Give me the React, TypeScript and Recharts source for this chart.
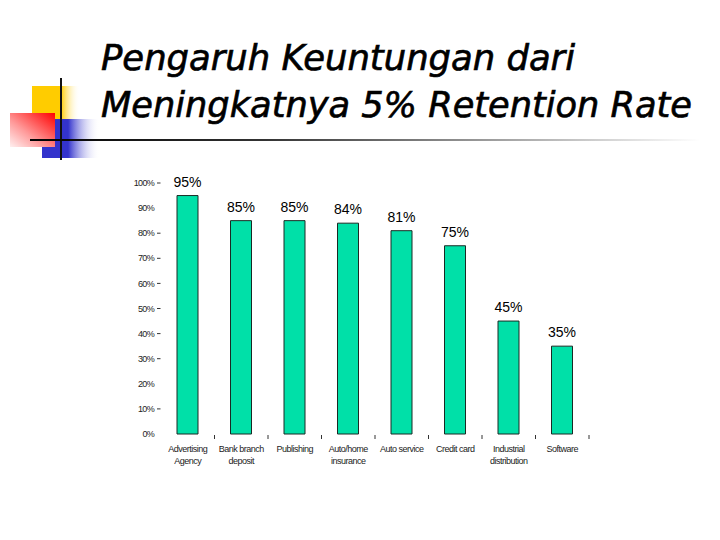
import React from "react";
import { BarChart, Bar, XAxis, YAxis, LabelList } from "recharts";

const categories = [
  "Advertising\nAgency",
  "Bank branch\ndeposit",
  "Publishing",
  "Auto/home\ninsurance",
  "Auto service",
  "Credit card",
  "Industrial\ndistribution",
  "Software",
];
const values = [95, 85, 85, 84, 81, 75, 45, 35];
const yTicks = [0, 10, 20, 30, 40, 50, 60, 70, 80, 90, 100];
const yTicksWithDash = [10, 30, 40, 50, 60, 70, 80, 100];
const titleLines = ["Pengaruh Keuntungan dari", "Meningkatnya 5% Retention Rate"];

const data = categories.map((c, i) => ({ category: c, value: values[i] }));

const W = 720;
const H = 540;
const M = { top: 183, right: 131, bottom: 66, left: 101 };
const Y_W = 60;
const X_H = 40;
const BAND = (W - M.left - Y_W - M.right) / categories.length;

const SMALL_FONT = "'Liberation Sans', Arial, sans-serif";

const YTick = (props: any) => {
  const { x, y, payload } = props;
  const v = payload.value;
  return (
    <g>
      {yTicksWithDash.includes(v) && (
        <line x1={x - 4} x2={x - 0.5} y1={y} y2={y} stroke="#333" strokeWidth={1} />
      )}
      <text
        x={x - 7}
        y={y}
        dy="0.35em"
        textAnchor="end"
        fontSize={9}
        letterSpacing={-0.7}
        fontFamily={SMALL_FONT}
        fill="#222"
      >
        {v}%
      </text>
    </g>
  );
};

const XTick = (props: any) => {
  const { x, y, payload } = props;
  const lines = String(payload.value).split("\n");
  return (
    <g>
      <line x1={x + BAND / 2} x2={x + BAND / 2} y1={y + 1} y2={y + 5} stroke="#333" strokeWidth={1} />
      {lines.map((ln, i) => (
        <text
          key={i}
          x={x}
          y={y + 18 + i * 12}
          textAnchor="middle"
          fontSize={9}
          letterSpacing={-0.5}
          fontFamily={SMALL_FONT}
          fill="#222"
        >
          {ln}
        </text>
      ))}
    </g>
  );
};

const Decoration = () => (
  <svg width={W} height={H} style={{ position: "absolute", left: 0, top: 0 }}>
    <defs>
      <linearGradient id="gy" x1="0" y1="0" x2="1" y2="0">
        <stop offset="0" stopColor="#FFCC00" />
        <stop offset="0.6" stopColor="#FFCC00" />
        <stop offset="1" stopColor="#FFFFFF" stopOpacity="0" />
      </linearGradient>
      <linearGradient id="gb" x1="0" y1="0" x2="1" y2="0">
        <stop offset="0" stopColor="#3333CC" />
        <stop offset="0.45" stopColor="#3333CC" />
        <stop offset="1" stopColor="#FFFFFF" stopOpacity="0" />
      </linearGradient>
      <linearGradient id="gr" x1="1" y1="0" x2="0" y2="1">
        <stop offset="0" stopColor="#FF0000" />
        <stop offset="0.6" stopColor="#FF9999" />
        <stop offset="1" stopColor="#FFF0F0" />
      </linearGradient>
      <linearGradient id="gl" x1="0" y1="0" x2="1" y2="0">
        <stop offset="0" stopColor="#000000" />
        <stop offset="0.35" stopColor="#333333" />
        <stop offset="1" stopColor="#FFFFFF" />
      </linearGradient>
    </defs>
    <rect x={32} y={86} width={48} height={33} fill="url(#gy)" />
    <rect x={42} y={119} width={58} height={39} fill="url(#gb)" />
    <rect x={10} y={113} width={45} height={34} fill="url(#gr)" />
    <rect x={60} y={78} width={2} height={82} fill="#111" />
    <rect x={30} y={139} width={670} height={2} fill="url(#gl)" />
    {titleLines.map((t, i) => (
      <text
        key={i}
        x={101}
        y={70 + i * 47}
        fontSize={35}
        fontStyle="italic"
        fontFamily="'DejaVu Sans Condensed', 'DejaVu Sans', sans-serif"
        fill="#000"
        stroke="#000"
        strokeWidth={0.6}
        textLength={i === 0 ? 474 : 591}
        lengthAdjust="spacingAndGlyphs"
      >
        {t}
      </text>
    ))}
  </svg>
);

export default function App() {
  return (
    <div style={{ position: "absolute", left: 0, top: 0, width: W, height: H, background: "#fff" }}>
      <Decoration />
      <div style={{ position: "absolute", left: 0, top: 0 }}>
        <BarChart width={W} height={H} data={data} margin={M}>
          <XAxis
            dataKey="category"
            interval={0}
            height={X_H}
            axisLine={false}
            tickLine={false}
            tickSize={0}
            tickMargin={0}
            tick={<XTick />}
          />
          <YAxis
            type="number"
            domain={[0, 100]}
            ticks={yTicks}
            width={Y_W}
            axisLine={false}
            tickLine={false}
            tickSize={0}
            tickMargin={0}
            tick={<YTick />}
            interval={0}
          />
          <Bar dataKey="value" fill="#00E0A8" stroke="#1a2a24" strokeWidth={1} barSize={21} isAnimationActive={false}>
            <LabelList
              dataKey="value"
              position="top"
              offset={9}
              formatter={(v: any) => `${v}%`}
              fontSize={14}
              fontFamily={SMALL_FONT}
              fill="#000"
            />
          </Bar>
        </BarChart>
      </div>
    </div>
  );
}
